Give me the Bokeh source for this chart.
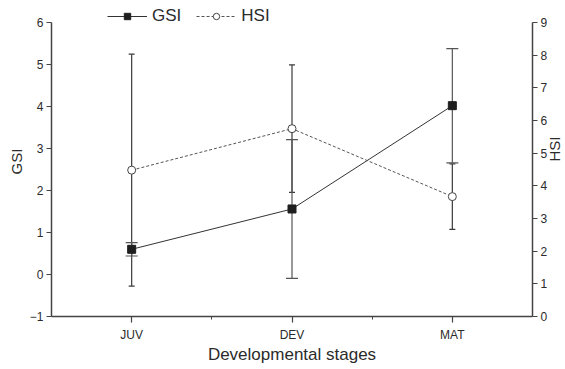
import math
from bokeh.plotting import figure
from bokeh.models import (Range1d, LinearAxis, FixedTicker, Whisker, ColumnDataSource,
                          TeeHead, Legend, LegendItem)
from bokeh.embed import file_html
from bokeh.resources import INLINE

# ---- data ----
stages = ["JUV", "DEV", "MAT"]
gsi = [0.60, 1.56, 4.02]
gsi_err = [0.16, 1.65, 1.36]
hsi = [4.48, 5.75, 3.67]
hsi_err = [3.55, 1.95, 1.00]
gsi_ticks = [-1, 0, 1, 2, 3, 4, 5, 6]
hsi_ticks = [0, 1, 2, 3, 4, 5, 6, 7, 8, 9]

FONT = "Liberation Sans"
DARK = "#2b2b2b"

# layout: axis area 294px tall, plus 16px headroom inside the frame for the legend
AXIS_H = 294
HEAD = 16
head_frac = HEAD / AXIS_H

x = list(range(1, len(stages) + 1))
src = ColumnDataSource(dict(
    x=x,
    gsi=gsi,
    gsi_lo=[v - e for v, e in zip(gsi, gsi_err)],
    gsi_hi=[v + e for v, e in zip(gsi, gsi_err)],
    hsi=hsi,
    hsi_lo=[v - e for v, e in zip(hsi, hsi_err)],
    hsi_hi=[v + e for v, e in zip(hsi, hsi_err)],
))

g_span = gsi_ticks[-1] - gsi_ticks[0]
h_span = hsi_ticks[-1] - hsi_ticks[0]

p = figure(frame_width=481, frame_height=AXIS_H + HEAD,
           x_range=Range1d(0.5, len(stages) + 0.5),
           y_range=Range1d(gsi_ticks[0], gsi_ticks[-1] + g_span * head_frac),
           output_backend="svg", toolbar_location=None,
           min_border_left=51, min_border_right=30,
           min_border_top=6, min_border_bottom=50)
p.extra_y_ranges = {"hsi": Range1d(hsi_ticks[0], hsi_ticks[-1] + h_span * head_frac)}
p.outline_line_color = None
p.xgrid.visible = False
p.ygrid.visible = False
p.background_fill_color = "white"
p.border_fill_color = "white"

# x axis
xa = p.xaxis[0]
xa.ticker = FixedTicker(ticks=x, minor_ticks=[i + 0.5 for i in x[:-1]])
xa.major_label_overrides = {i: s for i, s in zip(x, stages)}
xa.axis_label = "Developmental stages"

# left axis
ya = p.yaxis[0]
ya.ticker = FixedTicker(ticks=gsi_ticks, minor_ticks=[])
ya.bounds = (gsi_ticks[0], gsi_ticks[-1])
ya.axis_label = "GSI"

# right axis
ra = LinearAxis(y_range_name="hsi", ticker=FixedTicker(ticks=hsi_ticks, minor_ticks=[]),
                axis_label="HSI", bounds=(hsi_ticks[0], hsi_ticks[-1]))
p.add_layout(ra, "right")

for ax in [xa, ya, ra]:
    ax.axis_line_color = "#444444"
    ax.axis_line_width = 1.5
    ax.major_tick_line_color = "#444444"
    ax.major_tick_line_width = 1.2
    ax.minor_tick_line_color = "#444444"
    ax.major_tick_in = 0
    ax.major_tick_out = 5
    ax.minor_tick_in = 0
    ax.minor_tick_out = 3
    ax.major_label_text_font = FONT
    ax.major_label_text_font_size = "12px"
    ax.major_label_text_color = DARK
    ax.axis_label_text_font = FONT
    ax.axis_label_text_font_style = "normal"
    ax.axis_label_text_color = DARK
    ax.major_label_standoff = 3

xa.major_tick_out = 6
xa.major_label_standoff = 5
xa.axis_label_text_font_size = "17px"
xa.axis_label_standoff = 0
ya.axis_label_text_font_size = "15px"
ya.axis_label_standoff = 2
ra.axis_label_text_font_size = "15px"
ra.axis_label_standoff = 4
# read bottom-to-top, like the left title
ra.axis_label_orientation = math.pi / 2

# error bars
p.add_layout(Whisker(source=src, base="x", upper="hsi_hi", lower="hsi_lo",
                     y_range_name="hsi", line_color="#3a3a3a", line_width=1.2,
                     upper_head=TeeHead(size=6, line_color="#3a3a3a", line_width=1.2),
                     lower_head=TeeHead(size=6, line_color="#3a3a3a", line_width=1.2)))
p.add_layout(Whisker(source=src, base="x", upper="gsi_hi", lower="gsi_lo",
                     line_color="#555555", line_width=1.2,
                     upper_head=TeeHead(size=12, line_color="#555555", line_width=1.2),
                     lower_head=TeeHead(size=12, line_color="#555555", line_width=1.2)))

# series
gl = p.line("x", "gsi", source=src, line_color="#333333", line_width=1)
gs = p.scatter("x", "gsi", source=src, marker="square", size=8,
               fill_color="#1e1e1e", line_color="#1e1e1e")
hl = p.line("x", "hsi", source=src, y_range_name="hsi", line_color="#555555",
            line_width=1, line_dash="3 2")
hc = p.scatter("x", "hsi", source=src, y_range_name="hsi", marker="circle", size=8,
               fill_color="white", line_color="#444444", line_width=1)

legend = Legend(items=[LegendItem(label="GSI", renderers=[gl, gs]),
                       LegendItem(label="HSI", renderers=[hl, hc])],
                orientation="horizontal", location=(56, AXIS_H + HEAD - 20),
                glyph_width=40, glyph_height=16, label_height=16,
                label_standoff=5, spacing=15, padding=0, margin=0,
                background_fill_alpha=0, border_line_color=None,
                label_text_font=FONT, label_text_font_size="17px",
                label_text_color=DARK)
p.add_layout(legend)

open("out.html", "w").write(file_html(p, INLINE))
